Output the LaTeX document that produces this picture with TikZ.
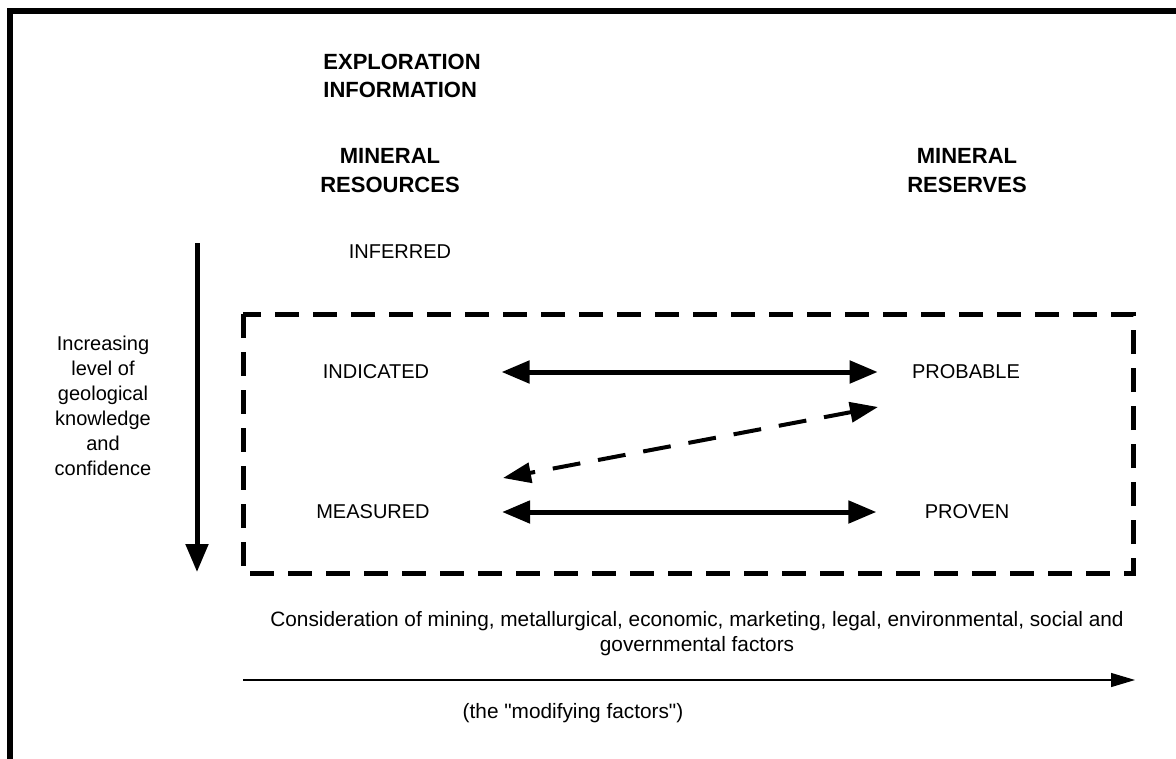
\documentclass[tikz,border=0pt]{standalone}
\usepackage{fontspec}
\setmainfont{Liberation Sans}
\usetikzlibrary{arrows.meta}
\tikzstyle{heading} = [font=\fontsize{11}{14.5}\selectfont\bfseries, align=center, inner sep=1pt]
\tikzstyle{category} = [font=\fontsize{10}{12}\selectfont, inner sep=1pt]
\tikzstyle{note} = [font=\fontsize{10.4}{12.5}\selectfont, align=center, inner sep=1pt]
\tikzstyle{link} = [line width=2.5pt, {Triangle[length=14pt,width=11pt]}-{Triangle[length=14pt,width=11pt]}]
\tikzstyle{dashlink} = [line width=2pt, dash pattern=on 14pt off 9pt, {Triangle[length=14pt,width=10pt]}-{Triangle[length=14pt,width=10pt]}]

\begin{document}
\begin{tikzpicture}[x=0.5pt, y=-0.5pt]

    \useasboundingbox (0,0) rectangle (1176,759);

    % Frame
    \draw [line width=2.8pt] (10,759) -- (10,11) -- (1176,11);

    % Headings
    \node (explore) [heading, anchor=west, align=left, font=\fontsize{11}{14}\selectfont\bfseries] at (321,76) {EXPLORATION\\INFORMATION};
    \node (resources) [heading] at (390,171) {MINERAL\\RESOURCES};
    \node (reserves) [heading] at (967,171) {MINERAL\\RESERVES};

    % Categories
    \node (inferred) [category] at (400,252) {INFERRED};
    \node (indicated) [category] at (376,372) {INDICATED};
    \node (probable) [category] at (966,372) {PROBABLE};
    \node (measured) [category] at (373,512) {MEASURED};
    \node (proven) [category] at (967,512) {PROVEN};

    % Side and bottom notes
    \node (confidence) [note, font=\fontsize{10}{12.5}\selectfont] at (103,406) {Increasing\\level of\\geological\\knowledge\\and\\confidence};
    \node (factors) [note] at (697,634) {Consideration of mining, metallurgical, economic, marketing, legal, environmental, social and\\governmental factors};
    \node (modifying) [note] at (573,713) {(the \textquotedbl modifying factors\textquotedbl)};

    % Confidence arrow
    \coordinate (conftop) at (197,243);
    \coordinate (confbot) at (197,572);
    \draw [line width=2.5pt, -{Triangle[length=14pt,width=11pt]}] (conftop) -- (confbot);

    % Box round indicated, measured, probable and proven
    \draw [line width=2.5pt, dash pattern=on 12pt off 7pt] (243,314) rectangle (1133,573);

    % Conversions between resources and reserves
    \draw [link, shorten <=35pt, shorten >=16pt] (indicated.east) -- (probable.west);
    \draw [link, shorten <=35pt, shorten >=23pt] (measured.east) -- (proven.west);
    \coordinate (dashR) at (878,407);
    \coordinate (dashL) at (503,478);
    \draw [dashlink] (dashR) -- (dashL);

    % Modifying factors arrow
    \coordinate (modL) at (243,680);
    \coordinate (modR) at (1135,680);
    \draw [line width=0.6pt, -{Triangle[length=12pt,width=7pt]}] (modL) -- (modR);

\end{tikzpicture}
\end{document}
